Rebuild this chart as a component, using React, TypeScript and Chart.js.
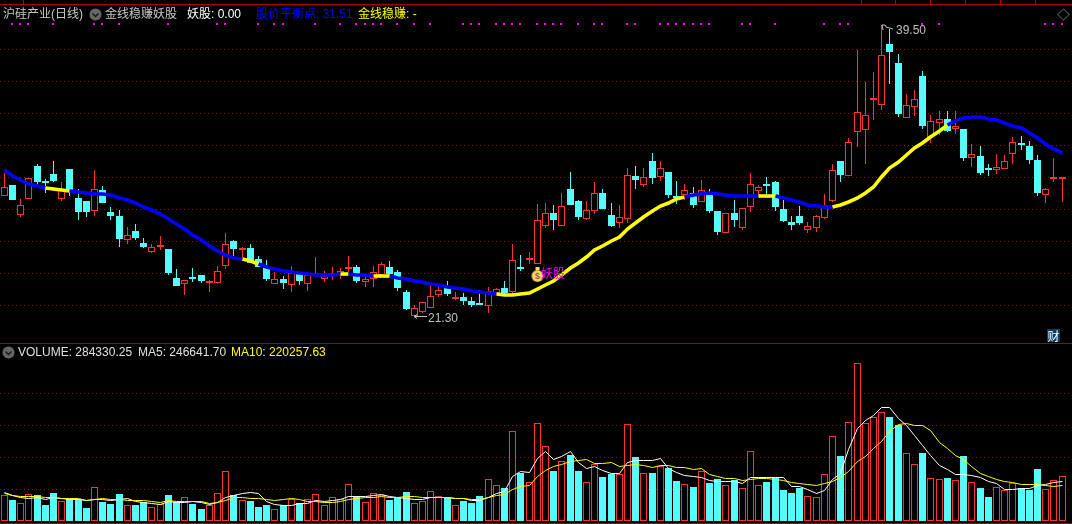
import React, { useEffect, useRef } from "react";
import { Chart, registerables, LinearScale } from "chart.js";

// Daily candles (prices)
const openPrices = [28.85,29.52,27.66,28.66,30.71,29.79,30.21,28.66,30.52,28.71,28.52,27.91,29.21,27.83,27.58,26.08,26.64,25.89,25.35,25.65,25.52,23.71,23.35,23.77,23.89,23.39,23.39,24.46,26.02,25.46,25.58,24.89,24.33,23.35,23.64,23.27,23.96,23.35,23.88,23.67,23.88,23.9,24.27,24.39,23.48,23.67,23.89,24.39,24.08,22.83,21.35,21.58,21.85,22.64,23.08,22.4,22.52,22.27,22.14,21.98,22.77,23.08,22.83,24.39,24.81,24.6,26.96,27.77,26.96,29.27,28.52,27.39,27.89,29.02,27.64,27.12,27.39,30.08,29.52,31.02,30.02,30.33,28.83,28.89,29.02,28.46,28.89,27.89,26.54,27.77,26.85,28.16,29.16,29.58,29.71,28.02,27.2,27.58,26.71,26.83,27.46,28.52,31.02,30.1,32.85,32.98,34.84,34.54,38.33,37.15,33.71,34.37,36.33,32.5,33.42,33.65,33,33.02,31.23,31.33,30.58,30.48,30.54,31.44,32.12,31.96,31.08,28.88,29.88,29.88];
const highPrices = [30.29,29.52,28.62,29.98,30.83,29.87,31.02,29.71,30.52,29.27,28.52,30.46,29.46,28.14,27.96,26.89,27.08,26.21,25.83,26.33,25.52,24.27,23.58,24.33,23.89,23.58,24.46,26.52,26.08,25.64,25.83,25.08,24.83,24.08,23.83,24.46,24,24,25.02,24.14,24.39,24.33,25.08,24.52,23.9,24.46,24.71,24.77,24.21,22.96,22.02,22.21,23.46,23.14,23.52,22.83,22.77,22.52,22.96,23.14,23.08,23.52,25.83,25.14,25.33,28.33,28.39,28.27,29.02,30.33,28.58,28.52,29.71,29.27,28.39,28.27,30.58,30.71,30.58,31.52,31.02,30.33,29.77,29.58,29.39,29.83,29.27,27.89,27.75,28.58,28.08,30.27,29.52,30.02,29.77,28.58,27.58,28.2,27.21,27.65,28.96,30.83,31.02,32.46,37.96,35.98,36.58,39.5,39.27,37.71,35.21,35.46,36.65,33.9,34.15,34.15,34.15,33.02,32.08,31.96,30.83,31.46,31.4,32.52,32.58,32.27,31.4,29.33,31.21,30];
const lowPrices = [28.85,28.58,27.52,28.66,29.5,29.04,29.71,28.54,28.85,27.33,27.52,27.58,28.39,27.33,25.64,25.83,26.08,25.58,25.27,25.46,23.89,23.21,22.64,23.46,23.39,22.83,23.33,24.27,25.04,24.77,24.64,24.39,23.52,23.35,23.02,22.83,23.27,22.89,23.88,23.46,23.58,23.64,24.08,23.39,23.14,23.14,23.89,23.71,22.89,21.71,21.3,21.52,21.85,22.52,22.58,22.33,22.02,21.9,22.02,21.52,22.71,22.71,22.71,24.14,24.58,24.6,26.83,26.71,26.96,28.27,27.33,27.33,27.71,28.02,26.89,26.83,27.14,29.27,29.39,29.58,29.77,28.71,28.33,28.58,28.08,28.46,27.77,26.39,26.54,26.89,26.71,27.83,28.79,28.83,27.89,27.2,26.7,27.02,26.52,26.58,27.4,28.46,29.71,30.1,31.92,30.85,33.58,34.21,35.83,33.77,33.71,33.83,33.02,32.15,32.65,32.83,32.71,31.02,30.65,30.15,30.08,30.21,30.54,30.83,31.71,30.83,28.83,28.4,29.71,28.46];
const closePrices = [29.37,28.58,28.25,29.93,29.71,29.67,29.79,29.29,29.17,27.83,27.83,29.25,28.39,27.58,26.14,26.37,26.2,25.64,25.62,25.77,24.02,23.21,23.56,23.64,23.52,23.52,24.12,25.83,25.52,25.58,24.64,24.39,23.64,23.62,23.39,24,23.52,23.87,24,23.83,24,24.12,24.39,23.52,23.62,24.06,24.56,23.96,23.08,21.77,21.81,22.19,22.56,22.96,22.71,22.52,22.27,22.02,22.02,22.89,22.99,22.77,24.81,24.27,24.94,27.31,27.75,27.33,28.21,28.27,27.52,27.96,29.02,28.02,26.96,27.52,30.14,29.83,30.02,29.96,30.56,28.89,28.71,29.18,28.27,29.18,27.89,26.58,27.75,27.33,28.06,29.56,29.37,29.46,28.14,27.27,27.02,27.14,26.94,27.58,28.25,30.46,30.15,32.19,34.06,33.87,34.96,37.63,37.83,33.96,34.5,34.87,33.21,33.5,33.62,32.9,33.21,31.21,31.46,30.27,30.46,30.62,31,32.19,32,31.08,29.02,29.25,30,30];

// 股价平衡点 line and the stretches where it turns gold
const balanceLine = [30.44,30.08,29.81,29.58,29.46,29.31,29.25,29.21,29.12,29.06,29,28.98,28.94,28.9,28.73,28.58,28.37,28.12,27.96,27.69,27.37,27.08,26.77,26.39,26.08,25.71,25.39,25.17,24.98,24.87,24.75,24.58,24.41,24.27,24.12,24.06,24,23.96,23.92,23.9,23.9,23.94,23.94,23.87,23.87,23.85,23.85,23.81,23.73,23.62,23.5,23.44,23.35,23.27,23.17,23.08,23,22.92,22.81,22.75,22.69,22.62,22.62,22.69,22.77,23.02,23.27,23.52,23.89,24.31,24.62,25.04,25.43,25.71,26.04,26.29,26.75,27.16,27.5,27.87,28.2,28.41,28.62,28.75,28.89,28.96,29,28.94,28.89,28.81,28.81,28.81,28.81,28.81,28.81,28.69,28.56,28.44,28.29,28.19,28.15,28.17,28.29,28.46,28.73,29.04,29.42,30.04,30.56,30.94,31.4,31.85,32.17,32.54,32.92,33.27,33.54,33.69,33.75,33.75,33.67,33.56,33.4,33.23,33.06,32.77,32.44,32.06,31.79,31.51];
const goldRuns = [[5,8],[29,31],[41,42],[45,47],[60,83],[92,94],[101,115]];

// Signal dots along the top
const signalBars = [1,2,3,6,11,12,14,20,26,27,31,33,34,38,41,43,44,45,46,48,50,52,56,57,58,60,61,62,63,65,66,67,68,70,72,73,76,77,80,81,82,83,84,85,86,90,91,94,100,102,103,112,114,127,128,129];
const signalLevel = 39.58;
const moneyBagBar = 65;
const moneyBagLevel = 23.96;

// Volume pane (thousands of lots)
const volumes = [160,131,110,167,160,100,175,123,137,137,81,210,119,106,169,98,100,119,85,106,162,119,148,106,75,98,173,310,162,129,125,87,100,73,100,135,110,135,167,98,148,135,229,156,117,173,160,131,144,181,110,123,185,154,144,98,125,112,156,260,223,206,560,300,242,610,467,312,373,412,312,242,356,275,294,294,604,400,298,300,344,331,250,229,212,310,237,262,223,256,204,435,223,244,269,194,175,206,154,148,292,529,406,617,985,610,648,679,650,598,423,354,425,267,260,269,254,406,242,206,150,210,192,235,206,194,325,198,254,284.33];
const ma5 = [181,158,148,142,148,135,144,140,135,135,129,137,135,127,135,140,119,117,110,106,119,117,115,125,115,106,115,146,162,173,179,173,121,106,100,98,108,110,127,125,127,133,152,154,152,162,165,152,150,140,137,135,148,148,144,140,140,131,127,148,169,183,277,308,302,392,435,385,406,435,365,329,340,315,298,298,367,379,379,379,392,329,302,287,277,269,252,246,246,244,235,273,269,273,273,273,215,215,194,173,190,260,298,444,579,631,662,710,710,642,600,537,475,412,350,319,292,292,283,273,248,235,198,198,202,202,219,231,240,246.64];
const ma10 = [173,162,154,154,156,148,144,142,140,140,129,137,140,135,135,131,129,127,123,115,127,119,123,123,119,110,117,131,146,144,142,142,135,129,135,142,135,121,119,115,117,125,133,142,144,148,154,148,148,154,154,148,148,148,144,142,142,135,135,148,160,165,194,215,225,277,315,340,356,375,379,385,360,360,367,340,350,354,346,335,344,344,335,335,325,329,292,277,267,265,252,260,265,265,260,252,240,235,229,223,235,244,273,308,371,406,454,496,558,606,610,598,596,564,490,454,412,385,340,298,277,262,244,240,231,231,231,219,215,220.26];

const priceGridTicks = [22,24,26,28,30,32,34,36,38];
const volumeGridTicks = [200,400,600,800];

const RED = "#ff3232";
const CYAN = "#54fcfc";
const BLUE = "#0000ff";
const GOLD = "#ffff00";

class SnapX extends LinearScale {
  static id = "snapX";
  static defaults = LinearScale.defaults;
  getPixelForValue(v: number) { return Math.floor(super.getPixelForValue(v)) + 0.5; }
}
class SnapY extends LinearScale {
  static id = "snapY";
  static defaults = LinearScale.defaults;
  getPixelForValue(v: number) { return Math.round(super.getPixelForValue(v)); }
}
class SnapHalfY extends LinearScale {
  static id = "snapHalfY";
  static defaults = LinearScale.defaults;
  getPixelForValue(v: number) { return Math.floor(super.getPixelForValue(v)) + 0.5; }
}
Chart.register(...registerables, SnapX, SnapY, SnapHalfY);

const makeDot = () => {
  const c = document.createElement("canvas");
  c.width = 3; c.height = 2;
  const g = c.getContext("2d")!;
  g.fillStyle = "#ff00ff";
  g.fillRect(0, 0, 2, 2);
  return c;
};
const makeBag = () => {
  const c = document.createElement("canvas");
  c.width = 14; c.height = 16;
  const g = c.getContext("2d")!;
  g.fillStyle = "#f5d98a";
  g.fillRect(5, 1, 4, 3);
  g.fillStyle = "#8a5a10";
  g.fillRect(5, 4, 4, 1);
  const gr = g.createRadialGradient(7, 10, 1, 7, 10, 7);
  gr.addColorStop(0, "#fff4c4");
  gr.addColorStop(0.7, "#f5c95a");
  gr.addColorStop(1, "#b07a20");
  g.fillStyle = gr;
  g.beginPath(); g.arc(7, 10, 6, 0, Math.PI * 2); g.fill();
  g.fillStyle = "#8a4a10";
  g.font = "bold 9px 'Liberation Sans'";
  g.textAlign = "center"; g.textBaseline = "middle";
  g.fillText("$", 7, 10.5);
  return c;
};

const isUp = (i: number) => closePrices[i] >= openPrices[i];
const upColor = (ctx: any) => (isUp(ctx.dataIndex) ? RED : CYAN);
const fillColor = (ctx: any) => (isUp(ctx.dataIndex) ? "#000000" : CYAN);
const isGold = (i: number, j: number) => goldRuns.some(([a, b]) => i >= a && j <= b);

const xy = (ys: number[]) => ys.map((y, x) => ({ x, y }));

const Chevron = ({ left, top }: { left: number; top: number }) => (
  <svg width={13} height={13} style={{ position: "absolute", left, top }}>
    <circle cx={6.5} cy={6.5} r={6} fill="#666666" />
    <polyline points="3.5,5.5 6.5,8.5 9.5,5.5" fill="none" stroke="#1a1a1a" strokeWidth={1.5} />
  </svg>
);

const label = (text: string, left: number, top: number, color: string, extra: any = {}) => (
  <span
    style={{
      position: "absolute",
      left,
      top,
      color,
      fontSize: 12,
      lineHeight: "14px",
      whiteSpace: "nowrap",
      fontFamily: '"Liberation Sans","Noto Sans CJK SC",sans-serif',
      ...extra,
    }}
  >
    {text}
  </span>
);

const frameColor = "#b00000";
const rule = (left: number, top: number, width: number, height: number, background = frameColor) => (
  <div key={`${left}-${top}`} style={{ position: "absolute", left, top, width, height, background }} />
);

export default function App() {
  const ref = useRef<HTMLCanvasElement>(null);
  useEffect(() => {
    document.documentElement.style.background = "#000";
    document.body.style.margin = "0";
    document.body.style.background = "#000";
    const dot = makeDot();
    const bag = makeBag();
    const gridBorder = { display: false, dash: [1, 3] };
    const chart = new Chart(ref.current!, {
      type: "bar",
      data: {
        datasets: [
          { type: "scatter", data: signalBars.map((x) => ({ x, y: signalLevel })), pointStyle: dot, yAxisID: "p", order: 1 },
          { type: "scatter", data: [{ x: moneyBagBar, y: moneyBagLevel }], pointStyle: bag, yAxisID: "p", order: 1 },
          {
            type: "line",
            data: xy(balanceLine),
            yAxisID: "p",
            borderWidth: 3.6,
            borderColor: BLUE,
            pointRadius: 0,
            tension: 0,
            segment: { borderColor: (c: any) => (isGold(c.p0DataIndex, c.p1DataIndex) ? GOLD : BLUE) },
            order: 2,
          },
          {
            type: "bar",
            data: openPrices.map((o, i) => ({ x: i, y: [o, closePrices[i]] })),
            yAxisID: "p",
            barThickness: 7,
            minBarLength: 1,
            backgroundColor: fillColor,
            borderColor: upColor,
            borderWidth: 1,
            borderSkipped: false,
            inflateAmount: 0,
            order: 3,
          },
          {
            type: "bar",
            data: lowPrices.map((l, i) => ({ x: i, y: [l, highPrices[i]] })),
            yAxisID: "p",
            barThickness: 1,
            backgroundColor: upColor,
            borderWidth: 0,
            inflateAmount: 0,
            order: 4,
          },
          { type: "line", data: xy(ma5), yAxisID: "vm", borderWidth: 1, borderColor: "#ffffff", pointRadius: 0, tension: 0, order: 2 },
          { type: "line", data: xy(ma10), yAxisID: "vm", borderWidth: 1, borderColor: GOLD, pointRadius: 0, tension: 0, order: 1 },
          {
            type: "bar",
            data: xy(volumes),
            yAxisID: "v",
            barThickness: 7,
            backgroundColor: fillColor,
            borderColor: upColor,
            borderWidth: 1,
            borderSkipped: false,
            inflateAmount: 0,
            order: 5,
          },
        ] as any,
      },
      options: {
        responsive: false,
        animation: false,
        devicePixelRatio: 1,
        layout: { padding: 0, autoPadding: false },
        datasets: { bar: { grouped: false } },
        plugins: { legend: { display: false }, tooltip: { enabled: false } },
        events: [],
        scales: {
          x: { type: "snapX", min: -0.528, max: 130.2, offset: false, display: false, grid: { offset: false } },
          p: {
            type: "snapY",
            position: "left",
            min: 8.333,
            max: 41.083,
            afterBuildTicks: (s: any) => {
              s.ticks = priceGridTicks.map((value) => ({ value }));
            },
            ticks: { display: false },
            border: gridBorder,
            grid: { color: "#8a1414", lineWidth: 1, drawTicks: false },
          },
          v: {
            type: "snapY",
            position: "right",
            min: -18.75,
            max: 3256.25,
            afterBuildTicks: (s: any) => {
              s.ticks = volumeGridTicks.map((value) => ({ value }));
            },
            ticks: { display: false },
            border: gridBorder,
            grid: { color: "#8a1414", lineWidth: 1, drawTicks: false },
          },
          vm: { type: "snapHalfY", position: "right", min: -18.75, max: 3256.25, display: false },
        },
      } as any,
    });
    return () => chart.destroy();
  }, []);

  return (
    <div style={{ position: "relative", width: 1072, height: 524, overflow: "hidden", background: "#000" }}>
      <canvas ref={ref} width={1072} height={524} style={{ position: "absolute", left: 0, top: 0, display: "block" }} />

      {rule(0, 4, 1072, 1)}
      {[23, 861, 895, 930, 965, 1000, 1035].map((x) => rule(x, 0, 1, 4))}
      {rule(0, 343, 1072, 1, "#a00000")}
      {rule(0, 523, 1072, 1, "#a00000")}

      {label("沪硅产业(日线)", 3, 7, "#c8c8c8")}
      <Chevron left={89} top={8} />
      {label("金线稳赚妖股", 105, 7, "#c8c8c8")}
      {label("妖股: 0.00", 187, 7, "#ffffff")}
      {label("股价平衡点: 31.51", 256, 7, BLUE)}
      {label("金线稳赚: -", 358, 7, GOLD)}

      <div style={{ position: "absolute", left: 1059, top: 10, width: 7, height: 7, border: "1px solid #555", transform: "rotate(45deg)" }} />

      <svg width={1072} height={524} style={{ position: "absolute", left: 0, top: 0, pointerEvents: "none" }}>
        <polyline points="883,30 882,25 885,25 886,27 893,29" fill="none" stroke="#c0c0c0" strokeWidth={1} />
        <polyline points="427,316.5 414,316.5 417,314.5" fill="none" stroke="#c0c0c0" strokeWidth={1} />
        <polyline points="414,316.5 417,318.5" fill="none" stroke="#c0c0c0" strokeWidth={1} />
      </svg>
      {label("39.50", 896, 23, "#c0c0c0")}
      {label("21.30", 428, 311, "#c0c0c0")}
      {label("妖股", 541, 267, "#ff00ff")}

      <div style={{ position: "absolute", left: 1047, top: 329, width: 13, height: 13, background: "#0a3a66", color: "#fff", fontSize: 12, lineHeight: "13px", textAlign: "center", fontFamily: '"Noto Sans CJK SC",sans-serif' }}>财</div>

      <Chevron left={2} top={346} />
      {label("VOLUME: 284330.25", 18, 345, "#e0e0e0")}
      {label("MA5: 246641.70", 138, 345, "#e0e0e0")}
      {label("MA10: 220257.63", 231, 345, GOLD)}
    </div>
  );
}
